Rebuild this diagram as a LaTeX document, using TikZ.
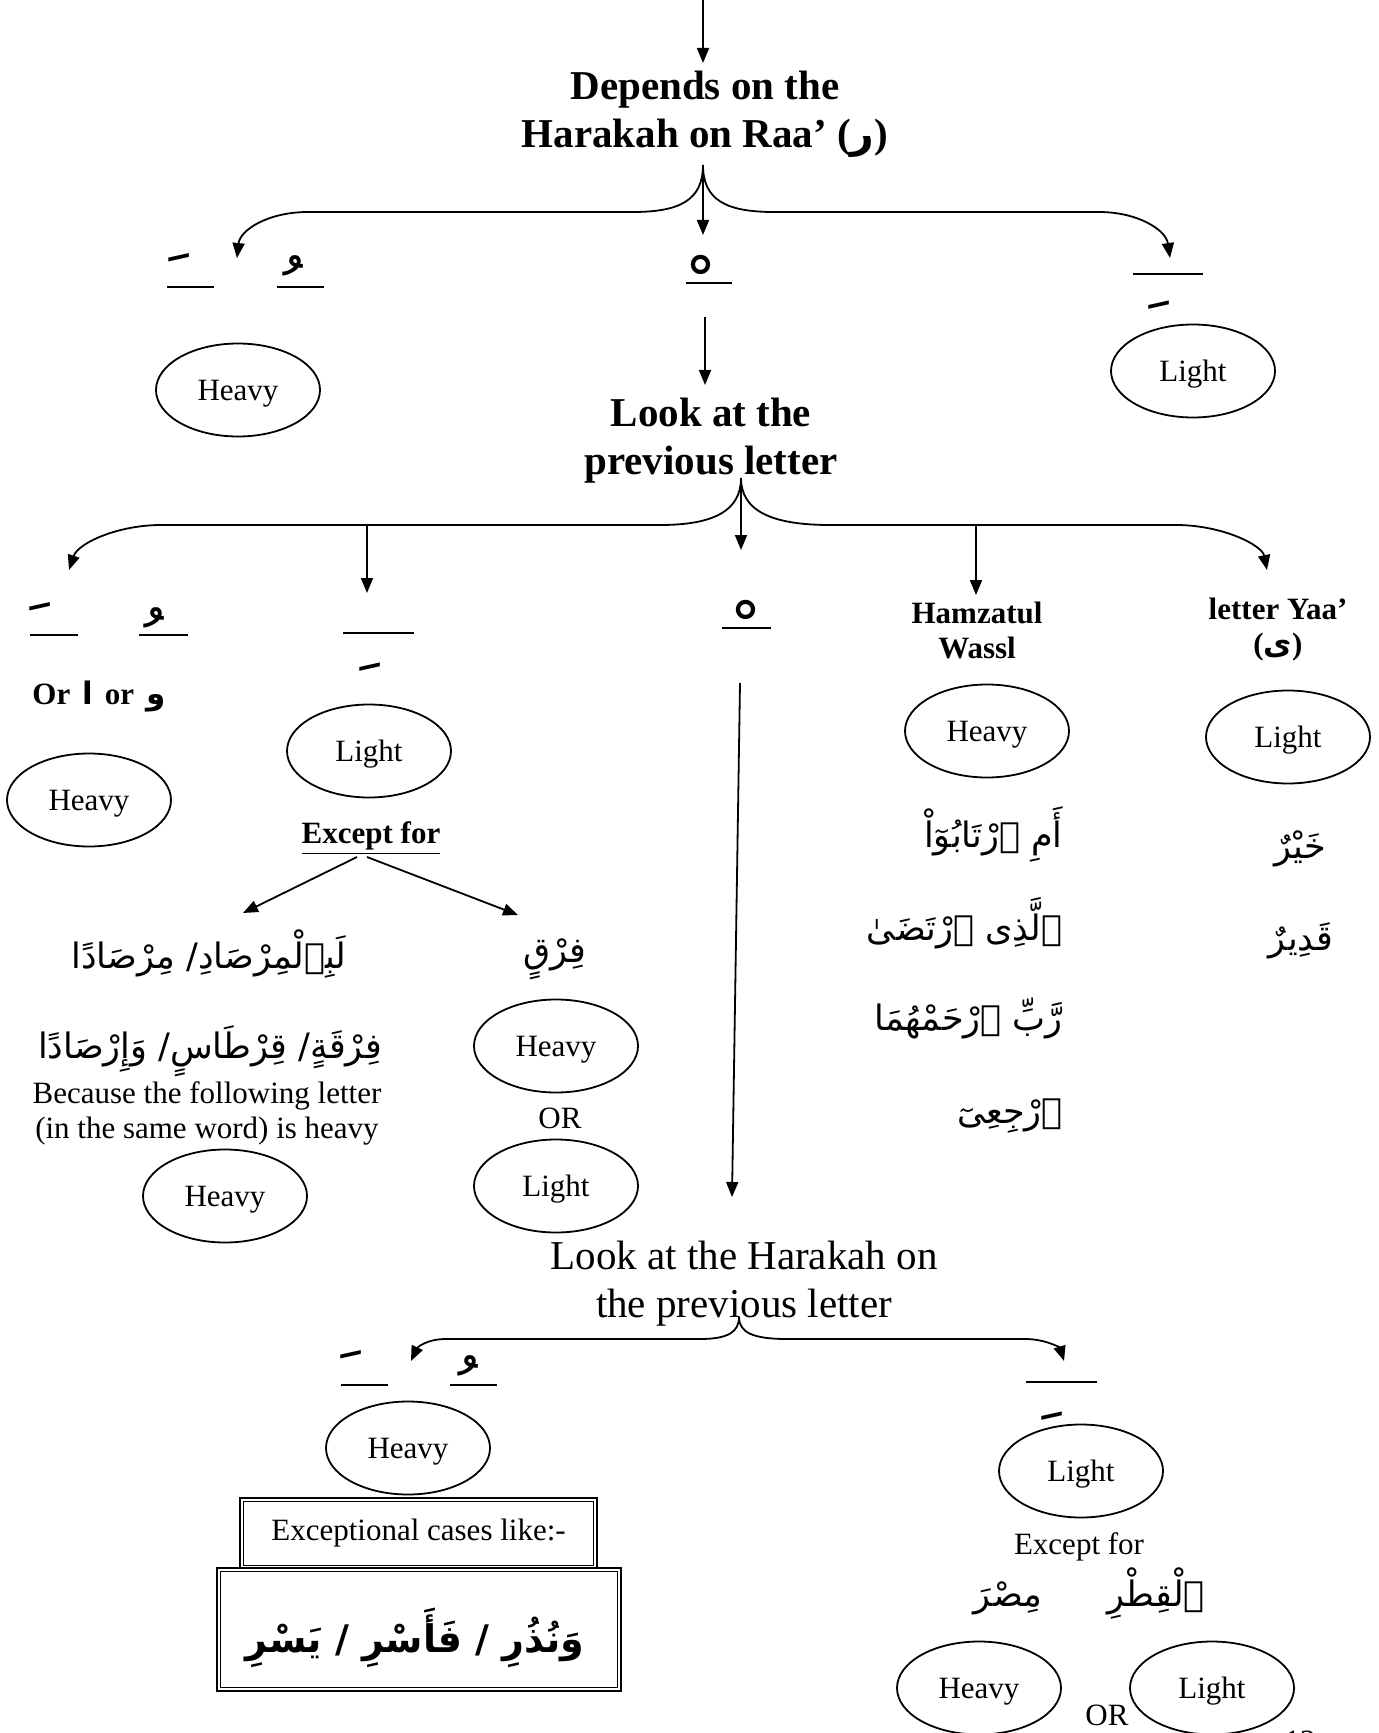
\documentclass[tikz,border=0pt]{standalone}
\usepackage{fontspec}
\setmainfont{Liberation Serif}
\newfontfamily\arabicfont[Script=Arabic]{DejaVu Sans}
\TeXXeTstate=1
\usetikzlibrary{arrows.meta,shapes.geometric}
\newcommand\fbig{\fontsize{20.5}{24}\selectfont}
\newcommand\fsmall{\fontsize{15.5}{17.5}\selectfont}
\newcommand\ar[1]{{\arabicfont\beginR #1\endR}}
\newcommand\arx[1]{{\arabicfont\fontsize{17.5}{22}\selectfont\beginR #1\endR}}
\newcommand\arbig[1]{{\arabicfont\bfseries\fontsize{19}{24}\selectfont\beginR #1\endR}}
\newcommand\hm[1]{{\arabicfont\fontsize{36}{36}\selectfont #1}}
\begin{document}
\begin{tikzpicture}[x=0.5pt,y=-0.5pt,
  ell/.style={draw, ellipse, line width=0.9pt, minimum width=82pt, minimum height=46.5pt, inner sep=0pt, text depth=0pt, font=\fsmall},
  arr/.style={line width=0.9pt, -{Triangle[length=7.5pt,width=6pt]}},
  hl/.style={line width=1pt},
  hbold/.style={font=\fbig\bfseries, align=center, inner sep=0pt},
  hreg/.style={font=\fbig, align=center, inner sep=0pt},
  sbold/.style={font=\fsmall\bfseries, align=center, inner sep=0pt},
  sreg/.style={font=\fsmall, align=center, inner sep=0pt},
  mk/.style={inner sep=0pt},
  arn/.style={inner sep=0pt, anchor=base},
  dbox/.style={draw, line width=1.2pt, inner sep=0pt},
  ibox/.style={line width=0.6pt}
]
\useasboundingbox (0,0) rectangle (1379,1733);

% ---- top ----
\coordinate (top) at (703,0);
\coordinate (t1) at (703,63);
\draw[arr] (top) -- (t1);
\node[hbold] (dep) at (705,114) {Depends on the\\Harakah on Raa’ (\ar{ر})};

\coordinate (f1) at (703,165);
\coordinate (f1l) at (237,258);
\coordinate (f1m) at (703,235);
\coordinate (f1r) at (1170,258);
\draw[arr] (f1) .. controls (703,200) and (680,212) .. (633,212) -- (308,212) .. controls (268,212) and (240,230) .. (f1l);
\draw[arr] (f1) -- (f1m);
\draw[arr] (f1) .. controls (703,200) and (726,212) .. (774,212) -- (1099,212) .. controls (1138,212) and (1166,230) .. (f1r);

% harakat, row 1
\node[mk, anchor=north] (m1a) at (179,253) {\hm{ﹶ}};
\node[mk, anchor=north] (m1b) at (293,255) {\hm{ﹸ}};
\node[mk, anchor=north] (m1c) at (701,255) {\hm{ﹾ}};
\node[mk, anchor=south] (m1d) at (1159,310) {\hm{ﹺ}};
\draw[hl] (167,287) -- (214,287);
\draw[hl] (277,287) -- (324,287);
\draw[hl] (686,283) -- (732,283);
\draw[hl] (1133,274) -- (1203,274);

\node[ell] (e1) at (238,390) {Heavy};
\node[ell] (e2) at (1193,371) {Light};

\coordinate (s1) at (705,317);
\coordinate (s1t) at (705,385);
\draw[arr] (s1) -- (s1t);
\node[hbold] (look) at (711,441) {Look at the\\previous letter};

% ---- second fork ----
\coordinate (f2) at (741,478);
\coordinate (f2a) at (69,570);
\coordinate (f2b0) at (367,525);
\coordinate (f2b) at (367,593);
\coordinate (f2c) at (741,550);
\coordinate (f2d0) at (976,525);
\coordinate (f2d) at (976,595);
\coordinate (f2e) at (1267,570);
\draw[arr] (f2) .. controls (741,510) and (715,525) .. (660,525) -- (161,525) .. controls (118,525) and (78,543) .. (f2a);
\draw[arr] (f2) .. controls (741,510) and (770,525) .. (830,525) -- (1176,525) .. controls (1222,525) and (1262,545) .. (f2e);
\draw[arr] (f2) -- (f2c);
\draw[arr] (f2b0) -- (f2b);
\draw[arr] (f2d0) -- (f2d);

% harakat, row 2
\node[mk, anchor=north] (m2a) at (40,602) {\hm{ﹶ}};
\node[mk, anchor=north] (m2b) at (154,607) {\hm{ﹸ}};
\node[mk, anchor=south] (m2c) at (370,672) {\hm{ﹺ}};
\node[mk, anchor=north] (m2d) at (746,600) {\hm{ﹾ}};
\draw[hl] (30,635) -- (78,635);
\draw[hl] (139,635) -- (188,635);
\draw[hl] (343,633) -- (414,633);
\draw[hl] (722,628) -- (771,628);

% left column
\node[sbold] (orl) at (99,697) {Or\hspace{6pt}\ar{ا}\hspace{6pt}or\hspace{6pt}\ar{و}};
\node[ell] (e3) at (89,800) {Heavy};

% light column
\node[ell] (e4) at (369,751) {Light};
\node[sbold] (exc) at (371,838) {\underline{Except for}};
\coordinate (x0a) at (357,857);
\coordinate (x0b) at (367,857);
\coordinate (xa) at (243,913);
\coordinate (xb) at (518,915);
\draw[arr] (x0a) -- (xa);
\draw[arr] (x0b) -- (xb);
\node[arn] (a1) at (209,968) {\arx{لَبِٱلْمِرْصَادِ/ مِرْصَادًا}};
\node[arn] (a2) at (210,1058) {\arx{فِرْقَةٍ/ قِرْطَاسٍ/ وَإِرْصَادًا}};
\node[sreg] (bec) at (207,1113) {Because the following letter\\(in the same word) is heavy};
\node[ell] (e9) at (225,1196) {Heavy};
\node[arn] (a3) at (555,962) {\arx{فِرْقٍ}};
\node[ell] (e7) at (556,1046) {Heavy};
\node[sreg] (or1) at (560,1118) {OR};
\node[ell] (e8) at (556,1186) {Light};

% hamzatul wassl column
\node[sbold] (hw) at (977,630) {Hamzatul\\Wassl};
\node[ell] (e5) at (987,731) {Heavy};
\node[arn, anchor=base east] (w1) at (1063,847) {\arx{أَمِ ٱرْتَابُوٓاْ}};
\node[arn, anchor=base east] (w2) at (1063,940) {\arx{ٱلَّذِى ٱرْتَضَىٰ}};
\node[arn, anchor=base east] (w3) at (1063,1030) {\arx{رَّبِّ ٱرْحَمْهُمَا}};
\node[arn, anchor=base east] (w4) at (1063,1123) {\arx{ٱرْجِعِىٓ}};

% yaa column
\node[sbold] (ly) at (1278,630) {letter Yaa’\\(\ar{ى})};
\node[ell] (e6) at (1288,737) {Light};
\node[arn] (y1) at (1300,858) {\arx{خَيْرٌ}};
\node[arn] (y2) at (1301,950) {\arx{قَدِيرٌ}};

% sukun long arrow
\coordinate (l0) at (740,683);
\coordinate (l1) at (732,1197);
\draw[arr] (l0) -- (l1);
\node[hreg] (look2) at (744,1284) {Look at the Harakah on\\the previous letter};

% ---- third fork ----
\coordinate (f3) at (739,1317);
\coordinate (f3a) at (411,1361);
\coordinate (f3b) at (1064,1361);
\draw[arr] (f3) .. controls (739,1332) and (728,1339) .. (700,1339) -- (446,1339) .. controls (426,1339) and (417,1348) .. (f3a);
\draw[arr] (f3) .. controls (739,1332) and (752,1339) .. (787,1339) -- (1025,1339) .. controls (1046,1339) and (1060,1348) .. (f3b);

% harakat, row 3
\node[mk, anchor=north] (m3a) at (351,1350) {\hm{ﹶ}};
\node[mk, anchor=north] (m3b) at (468,1355) {\hm{ﹸ}};
\node[mk, anchor=south] (m3c) at (1052,1421) {\hm{ﹺ}};
\draw[hl] (341,1385) -- (388,1385);
\draw[hl] (450,1385) -- (497,1385);
\draw[hl] (1026,1382) -- (1097,1382);

\node[ell] (e10) at (408,1448) {Heavy};
\node[dbox, minimum width=178.5pt, minimum height=35.5pt, font=\fsmall] (bx1) at (418.5,1533.5) {Exceptional cases like:-};
\draw[ibox] ([shift={(2.5pt,-2.5pt)}]bx1.north west) rectangle ([shift={(-2.5pt,2.5pt)}]bx1.south east);
\node[dbox, fill=white, minimum width=202pt, minimum height=61.5pt] (bx2) at (419,1629.5) {};
\draw[ibox] ([shift={(2.5pt,-2.5pt)}]bx2.north west) rectangle ([shift={(-2.5pt,2.5pt)}]bx2.south east);
\node[arn] (bx2t) at (415,1652) {\arbig{وَنُذُرِ / فَأَسْرِ / يَسْرِ}};

\node[ell] (e11) at (1081,1471) {Light};
\node[sreg] (exc2) at (1079,1547) {Except for};
\node[arn] (w5) at (1008,1606) {\arx{مِصْرَ}};
\node[arn] (w6) at (1156,1606) {\arx{ٱلْقِطْرِ}};
\node[ell] (e12) at (979,1688) {Heavy};
\node[ell] (e13) at (1212,1688) {Light};
\node[sreg] (or2) at (1107,1715) {OR};
\node[sreg] (pg) at (1300,1741) {12};
\end{tikzpicture}
\end{document}
